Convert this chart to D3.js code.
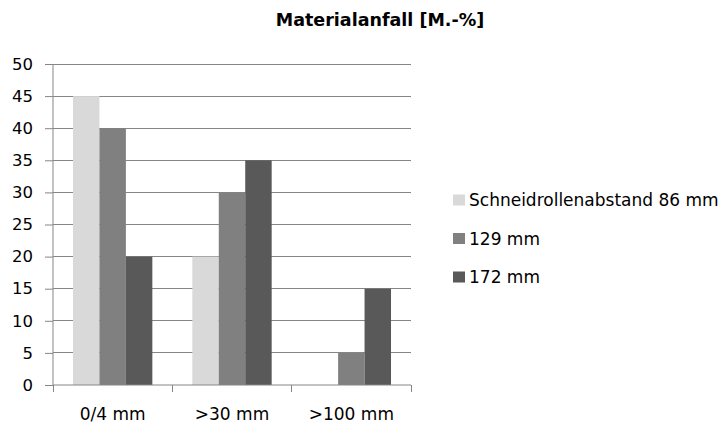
<!DOCTYPE html>
<html><head><meta charset="utf-8">
<script src="https://cdn.jsdelivr.net/npm/d3@7"></script>
<style>body{margin:0;background:#fff}svg{display:block}text{font-family:"DejaVu Sans",sans-serif;fill:#000}</style>
</head><body><svg id="c" width="726" height="423"></svg>
<script>
const categories = ["0/4 mm", ">30 mm", ">100 mm"];
const seriesNames = ["Schneidrollenabstand 86 mm", "129 mm", "172 mm"];
const s86 = [45, 20, 0];
const s129 = [40, 30, 5];
const s172 = [20, 35, 15];
const yTicks = [0,5,10,15,20,25,30,35,40,45,50];
const colors = ["#d9d9d9", "#808080", "#595959"];
const series = [s86, s129, s172];

const svg = d3.select("#c");
const m = {l:53, r:411, t:64, b:385};
const x = d3.scaleBand().domain(categories).range([m.l, m.r]).paddingInner(0).paddingOuter(0);
const y = d3.scaleLinear().domain([0,50]).range([m.b, m.t]);

svg.append("g").selectAll("line").data(yTicks.filter(d=>d>0)).join("line")
  .attr("x1", m.l).attr("x2", m.r).attr("y1", d=>y(d)).attr("y2", d=>y(d))
  .attr("stroke", "#868686").attr("stroke-width", 1).attr("shape-rendering","crispEdges");

const groupW = x.bandwidth()*0.665;
const x1 = d3.scaleBand().domain([0,1,2]).range([0, groupW]);
const g = svg.append("g");
series.forEach((s, si) => {
  g.selectAll(null).data(s).join("rect")
    .attr("x", (d,i) => x(categories[i]) + (x.bandwidth()-groupW)/2 + x1(si))
    .attr("width", x1.bandwidth())
    .attr("y", d => y(d)).attr("height", d => y(0)-y(d))
    .attr("fill", colors[si]);
});

const ya = d3.axisLeft(y).tickValues(yTicks).tickSize(8).tickPadding(12);
const yg = svg.append("g").attr("transform", `translate(${m.l},0)`).call(ya);
yg.select(".domain").attr("d", `M0,${m.b}V${m.t}`).attr("stroke","#868686");
yg.selectAll(".tick line").attr("stroke","#868686");
yg.selectAll("text").style("font-size","16.5px").attr("fill","#000");

const xa = d3.axisBottom(x).tickSize(0).tickPadding(23);
const xg = svg.append("g").attr("transform", `translate(0,${m.b})`).call(xa);
xg.select(".domain").attr("d", `M${m.l},0H${m.r}`).attr("stroke","#868686");
xg.selectAll("text").style("font-size","17px").attr("fill","#000");
const bounds = [m.l, ...categories.map(c => x(c)+x.bandwidth())];
xg.selectAll(".sep").data(bounds).join("line").attr("class","sep")
  .attr("x1", d=>d).attr("x2", d=>d).attr("y1", 0).attr("y2", 7)
  .attr("stroke","#868686").attr("shape-rendering","crispEdges");

svg.append("text").attr("x", 380).attr("y", 26).attr("text-anchor","middle")
  .style("font-size","17.5px").style("font-weight","bold").text("Materialanfall [M.-%]");

const lg = svg.append("g");
seriesNames.forEach((n, i) => {
  const yy = 200 + i*38.5;
  lg.append("rect").attr("x", 453).attr("y", yy-5.5).attr("width", 12).attr("height", 11).attr("fill", colors[i]);
  lg.append("text").attr("x", 469).attr("y", yy+6).style("font-size","17px").text(n);
});
</script></body></html>
